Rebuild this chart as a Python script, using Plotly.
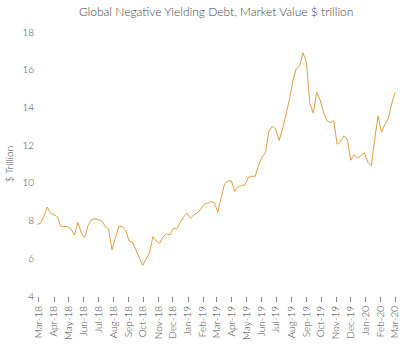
import pandas as pd
import plotly.graph_objects as go

title_text = "Global Negative Yielding Debt, Market Value $ trillion"
y_label = "$ Trillion"
start_date = "2018-02-25"
values = [
    7.8, 7.85, 8.2, 8.72, 8.4, 8.3, 8.2, 7.7, 7.7, 7.68,
    7.55, 7.23, 7.9, 7.35, 7.1, 7.75, 8.05, 8.1, 8.05, 7.98,
    7.7, 7.55, 6.45, 7.1, 7.7, 7.68, 7.5, 6.9, 6.85, 6.45,
    6.05, 5.62, 5.95, 6.3, 7.15, 6.9, 6.8, 7.15, 7.3, 7.23,
    7.6, 7.55, 7.9, 8.2, 8.38, 8.12, 8.3, 8.4, 8.6, 8.85,
    8.92, 9.0, 8.95, 8.45, 9.2, 9.95, 10.1, 10.1, 9.55, 9.8,
    9.85, 9.9, 10.3, 10.35, 10.35, 10.95, 11.35, 11.6, 12.75, 13.0,
    12.85, 12.25, 12.85, 13.55, 14.4, 15.4, 16.05, 16.2, 16.9, 16.4,
    14.2, 13.7, 14.8, 14.4, 13.75, 13.3, 13.2, 13.3, 12.05, 12.2,
    12.5, 12.3, 11.2, 11.5, 11.3, 11.45, 11.6, 11.1, 10.9, 12.3,
    13.55, 12.7, 13.1, 13.4, 14.2, 14.8,
]
dates = pd.date_range(start_date, periods=len(values), freq="7D")

fig = go.Figure(
    go.Scatter(x=dates, y=values, mode="lines",
               line=dict(color="#DBA043", width=1))
)

grey = "#444444"
fig.update_layout(
    width=404, height=346,
    margin=dict(l=35, r=4, t=32, b=50),
    paper_bgcolor="white", plot_bgcolor="white",
    font=dict(family="Lato", size=10, color=grey, weight=300),
    showlegend=False,
    title=dict(text=title_text, x=0.535, xanchor="center",
               y=0.965, yanchor="middle",
               font=dict(family="Lato", size=12, color=grey, weight=300)),
)
fig.update_xaxes(
    type="date", range=["2018-02-21", "2020-03-11"],
    tick0="2018-03-01", dtick="M1", tickformat="%b-%y",
    tickangle=-90, ticks="outside", ticklen=5, tickcolor="#888",
    showgrid=False, showline=False, zeroline=False,
    tickfont=dict(size=10, color=grey, weight=300),
)
fig.update_yaxes(
    range=[4, 18], dtick=2, tick0=4,
    showgrid=False, showline=False, zeroline=False,
    ticks="", tickfont=dict(size=10, color=grey, weight=300),
    title=dict(text=y_label, standoff=6,
               font=dict(size=10, color=grey, weight=300)),
)
fig.write_html("out.html")
